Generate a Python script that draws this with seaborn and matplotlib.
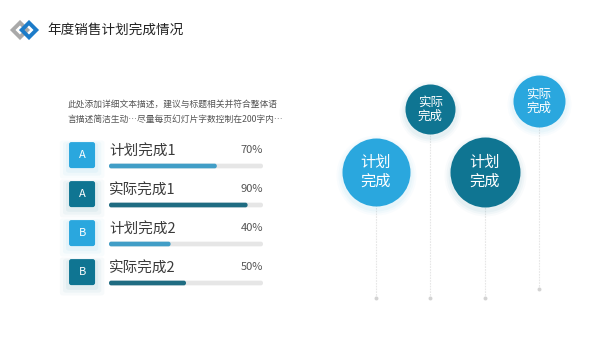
import matplotlib
matplotlib.use('Agg')
import matplotlib.pyplot as plt
import seaborn as sns
import pandas as pd
from matplotlib.patches import FancyBboxPatch, Polygon

# data
labels = ['计划完成1', '实际完成1', '计划完成2', '实际完成2']
badges = ['A', 'A', 'B', 'B']
values = [70, 90, 40, 50]
bubble_text = ['计划\n完成', '实际\n完成', '计划\n完成', '实际\n完成']
bubble_height = [166, 229, 166, 237]
bubble_base = [40, 40, 40, 49]
bubble_radius = [34, 25, 35, 26]
title = '年度销售计划完成情况'
desc = ['此处添加详细文本描述，建议与标题相关并符合整体语',
        '言描述简洁生动…尽量每页幻灯片字数控制在200字内…']

LIGHT = '#2AA7DE'
DARK = '#0F7592'
row_colors = [LIGHT, DARK, LIGHT, DARK]
bubble_colors = [LIGHT, DARK, DARK, LIGHT]

sns.set_theme(style='white')
plt.rcParams['font.family'] = ['Noto Sans CJK SC', 'DejaVu Sans']

fig = plt.figure(figsize=(6, 3.38), dpi=100)
fig.patch.set_facecolor('white')

# background / decoration layer in pixel coords
ax0 = fig.add_axes([0, 0, 1, 1])
ax0.set_xlim(0, 600)
ax0.set_ylim(338, 0)
ax0.axis('off')

# logo: two overlapping diamonds
def diamond(cx, cy, r, color):
    return Polygon([(cx - r, cy), (cx, cy - r), (cx + r, cy), (cx, cy + r)],
                   closed=True, fill=False, edgecolor=color, linewidth=2.8,
                   joinstyle='miter')
ax0.add_patch(diamond(20, 30, 7.3, '#A9A9A9'))
ax0.add_patch(diamond(29, 30, 7.3, '#1C7CC9'))
ax0.text(47, 30, title, fontsize=9.8, color='#222222', va='center', ha='left')

for i, line in enumerate(desc):
    ax0.text(68, 104 + i * 15, line, fontsize=6.3, color='#555555',
             va='center', ha='left')

# progress bars
df = pd.DataFrame({'label': labels, 'value': values, 'full': [100] * 4})
ax = fig.add_axes([109 / 600, (338 - 322) / 338, 154 / 600, 195 / 338])
sns.barplot(data=df, x='full', y='label', orient='h', color='#E6E6E6',
            width=0.12, ax=ax)
sns.barplot(data=df, x='value', y='label', orient='h', hue='label',
            palette=row_colors, legend=False, width=0.12, ax=ax)
ax.set_xlim(0, 100)
ax.set_ylim(4, -1)
ax.axis('off')
ax.patch.set_alpha(0)

# round the bar ends
for p in list(ax.patches):
    x0, y0, w, h = p.get_x(), p.get_y(), p.get_width(), p.get_height()
    fc = p.get_facecolor()
    p.remove()
    ax.add_patch(FancyBboxPatch((x0, y0), w, h,
                                boxstyle='round,pad=0,rounding_size=1.4',
                                mutation_aspect=0.04, facecolor=fc,
                                edgecolor='none'))

for i, (lab, b, v) in enumerate(zip(labels, badges, values)):
    ax.text(0, i - 0.37, lab, fontsize=10.5, color='#3A3A3A', va='center',
            ha='left')
    ax.text(100, i - 0.42, f'{v}%', fontsize=8, color='#555555',
            va='center', ha='right')
    # soft shadow + badge
    for k, a in [(6, 0.03), (4, 0.04), (2, 0.05)]:
        ax.add_patch(FancyBboxPatch((-17.5 - 8.4 - k, i - 0.28 - 0.333 - k / 39 * 0.6 + 0.05),
                                    16.9 + 2 * k, 0.667 + 2 * k / 39,
                                    boxstyle='round,pad=0,rounding_size=2',
                                    facecolor=row_colors[i], edgecolor='none',
                                    alpha=a, clip_on=False, mutation_aspect=0.03))
    ax.add_patch(FancyBboxPatch((-17.5 - 8.45, i - 0.28 - 0.333), 16.9, 0.667,
                                boxstyle='round,pad=0,rounding_size=1.5',
                                facecolor=row_colors[i], edgecolor='none',
                                clip_on=False, mutation_aspect=0.04))
    ax.text(-17.5, i - 0.28, b, fontsize=8, color='white', va='center',
            ha='center')

# bubbles on stems
axb = fig.add_axes([321.7 / 600, 0, 271.5 / 600, 1])
axb.set_xlim(-1, 4)
axb.set_ylim(0, 338)
axb.axis('off')
axb.patch.set_alpha(0)
xs = list(range(len(bubble_height)))
axb.vlines(xs, bubble_base, bubble_height, color='#E6E6E6', linewidth=0.8,
           linestyle=(0, (1.5, 1)), zorder=1)
axb.scatter(xs, bubble_base, s=8, color='#D3D3D3', linewidths=0, zorder=2)
px2pt = 72 / 100
for x, h, r, c, t in zip(xs, bubble_height, bubble_radius, bubble_colors,
                         bubble_text):
    for k, a in [(6, 0.025), (4, 0.035), (2, 0.045)]:
        axb.scatter([x], [h - 3], s=(2 * (r + k) * px2pt) ** 2, color=c,
                    alpha=a, linewidths=0, zorder=2)
    axb.scatter([x], [h], s=(2 * r * px2pt) ** 2, color=c, linewidths=0,
                zorder=3)
    axb.text(x, h, t, fontsize=11 if r > 30 else 9, color='white',
             ha='center', va='center', linespacing=1.1, zorder=4)

fig.savefig('out.png', dpi=100, facecolor='white')
